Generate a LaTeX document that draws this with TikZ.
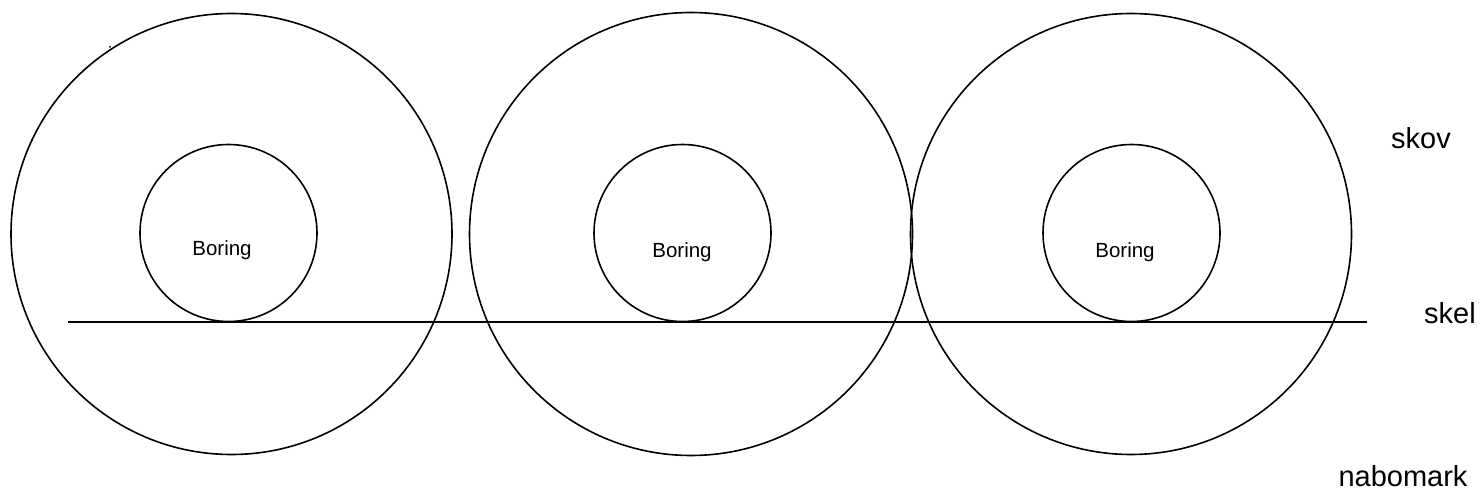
\documentclass[tikz,border=0pt]{standalone}
\usepackage{fontspec}
\setmainfont{Liberation Sans}
\begin{document}
\begin{tikzpicture}[x=1pt,y=-1pt,
  outer/.style={circle,draw,line width=1.6pt,minimum size=441pt,inner sep=0pt},
  inner/.style={circle,draw,line width=1.6pt,minimum size=177pt,inner sep=0pt},
  bore/.style={font=\fontsize{20.5}{24}\selectfont,anchor=base,inner sep=0pt},
  lab/.style={font=\fontsize{29}{34}\selectfont,anchor=base,inner sep=0pt}]
\useasboundingbox (0,0) rectangle (1481,500);
\node[outer] (o1) at (231.5,234) {};
\node[outer,minimum size=443pt] (o2) at (691,234) {};
\node[outer] (o3) at (1131,234) {};
\node[inner] (i1) at (228.5,233) {};
\node[inner] (i2) at (682.5,233) {};
\node[inner] (i3) at (1131.5,233) {};
\node[bore] (b1) at (222,255) {Boring};
\node[bore] (b2) at (682,257) {Boring};
\node[bore] (b3) at (1125,257) {Boring};
\coordinate (ls) at (68,322);
\coordinate (le) at (1367,322);
\draw[line width=2.2pt] (ls) -- (le);
\node[lab] (skov) at (1421,149) {skov};
\node[lab] (skel) at (1450,323) {skel};
\node[lab] (nabo) at (1403,486) {nabomark};
\fill (110,47) circle (1pt);
\end{tikzpicture}
\end{document}
